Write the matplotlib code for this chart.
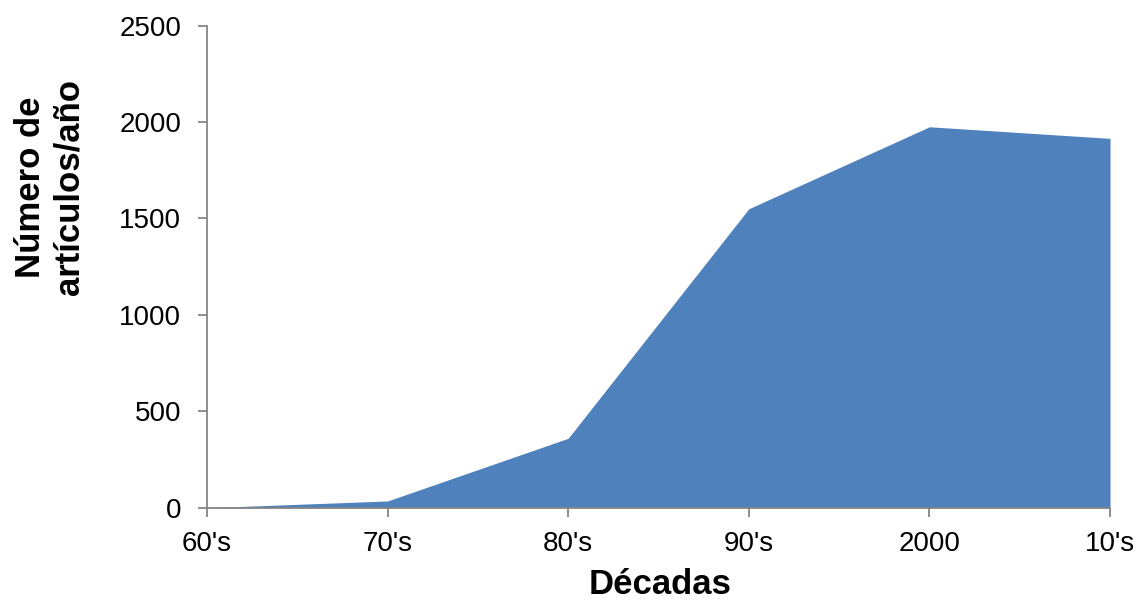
import matplotlib.pyplot as plt

decadas = ["60's", "70's", "80's", "90's", "2000", "10's"]
articulos = [0, 35, 360, 1550, 1975, 1915]

plt.rcParams['font.family'] = ['Liberation Sans', 'DejaVu Sans']

fig = plt.figure(figsize=(11.46, 6.02), dpi=100)
ax = fig.add_axes([0.1806, 0.1566, 0.7880, 0.8010])

x = list(range(len(decadas)))
ax.fill_between(x, articulos, 0, color='#4F81BD', linewidth=0)

ax.set_xlim(0, len(decadas) - 1)
ax.set_ylim(0, 2500)
ax.set_yticks(range(0, 2501, 500))
ax.set_xticks(x)
ax.set_xticklabels(decadas)

for side in ['top', 'right']:
    ax.spines[side].set_visible(False)
for side in ['left', 'bottom']:
    ax.spines[side].set_color('#868686')
    ax.spines[side].set_linewidth(1.3)
ax.tick_params(axis='both', direction='out', length=6.5, width=1.3, color='#868686',
               labelsize=20, labelcolor='black')
ax.tick_params(axis='y', pad=12)
ax.tick_params(axis='x', pad=10)

# axis titles placed by hand: the y title sits above the axis centre
fig.text(660 / 1146, 1 - 584 / 602, 'Décadas', fontsize=25, fontweight='bold',
         ha='center', va='center')
fig.text(50 / 1146, 1 - 187 / 602, 'Número de\nartículos/año', fontsize=25,
         fontweight='bold', rotation=90, ha='center', va='center',
         multialignment='center', linespacing=1.2)

fig.savefig('out.png', dpi=100)
